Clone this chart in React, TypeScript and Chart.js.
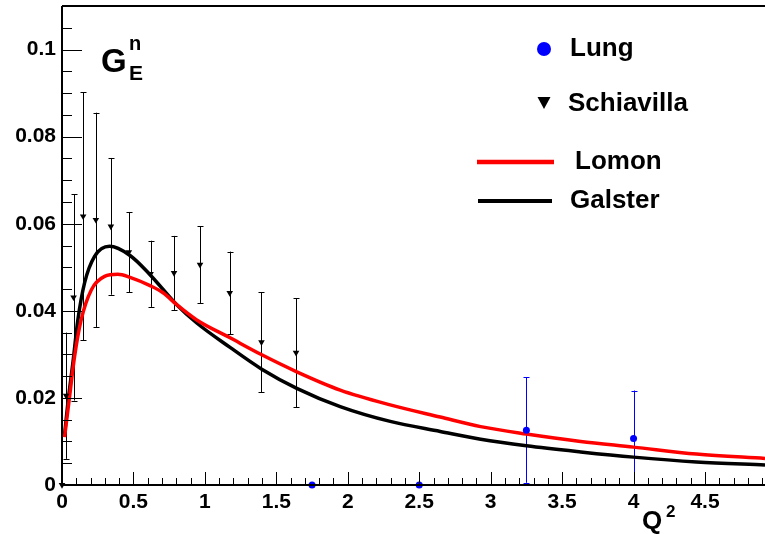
import React, { useEffect, useRef } from "react";
import { Chart, registerables } from "chart.js";
Chart.register(...registerables);

// ---- data ----
const lungQ2 = [1.75, 2.5, 3.25, 4.0];
const lungG = [0, 0, 0.0126, 0.0107];
const lungErr = [0, 0, 0.0121, 0.011];

const schQ2 = [0, 0.029, 0.081, 0.148, 0.237, 0.342, 0.468, 0.62, 0.784, 0.966, 1.174, 1.396, 1.638];
const schG = [0, 0.0205, 0.0431, 0.0617, 0.0609, 0.0594, 0.0535, 0.0485, 0.0487, 0.0506, 0.0441, 0.0328, 0.0304];
const schErr = [0, 0.0145, 0.0237, 0.0285, 0.0246, 0.0157, 0.0092, 0.0076, 0.0085, 0.0088, 0.0095, 0.0115, 0.0125];

const lomonQ2 = [0.018, 0.053, 0.088, 0.134, 0.205, 0.298, 0.391, 0.476, 0.616, 0.71, 0.803, 0.943, 1.176, 1.398, 1.643, 1.947, 2.297, 2.647, 2.93, 3.25, 3.63, 4.0, 4.44, 4.92];
const lomonG = [0.011, 0.0203, 0.0295, 0.0379, 0.0448, 0.0479, 0.0484, 0.0477, 0.0458, 0.0441, 0.0414, 0.0379, 0.0338, 0.0299, 0.026, 0.0218, 0.0184, 0.0156, 0.0134, 0.0117, 0.01, 0.0087, 0.0071, 0.0061];

const galsterQ2 = [0.018, 0.041, 0.076, 0.111, 0.158, 0.228, 0.333, 0.476, 0.616, 0.803, 0.943, 1.176, 1.398, 1.643, 1.947, 2.297, 2.647, 2.93, 3.25, 3.63, 4.0, 4.44, 4.92];
const galsterG = [0.0115, 0.0188, 0.028, 0.0379, 0.0464, 0.0525, 0.0548, 0.0527, 0.0483, 0.0414, 0.0372, 0.0316, 0.0266, 0.0222, 0.018, 0.0146, 0.0123, 0.0105, 0.009, 0.0076, 0.0064, 0.0053, 0.0046];

const xTicks = [0, 0.5, 1, 1.5, 2, 2.5, 3, 3.5, 4, 4.5];
const yTicks = [0, 0.02, 0.04, 0.06, 0.08, 0.1];
const X_MIN = 0;
const X_MAX = 4.92;
const Y_MIN = 0;
const Y_MAX = 0.11;

const legendNames = ["Lung", "Schiavilla", "Lomon", "Galster"];

const FONT = "'Liberation Sans', Arial, Helvetica, sans-serif";

const errorBarPlugin = {
  id: "errorBars",
  beforeDatasetsDraw(chart: any) {
    const ctx = chart.ctx;
    const xs = chart.scales.x;
    const ys = chart.scales.y;
    const sets = [
      { xv: lungQ2, yv: lungG, ev: lungErr, color: "#0000ff" },
      { xv: schQ2, yv: schG, ev: schErr, color: "#000000" },
    ];
    ctx.save();
    ctx.lineWidth = 1;
    for (const s of sets) {
      ctx.strokeStyle = s.color;
      s.xv.forEach((xv: number, i: number) => {
        const e = s.ev[i];
        if (!e) return;
        const px = Math.round(xs.getPixelForValue(xv)) + 0.5;
        const lo = Math.max(Y_MIN, s.yv[i] - e);
        const p1 = ys.getPixelForValue(s.yv[i] + e);
        const p2 = ys.getPixelForValue(lo);
        ctx.beginPath();
        ctx.moveTo(px, p1);
        ctx.lineTo(px, p2);
        ctx.moveTo(px - 3, Math.round(p1) + 0.5);
        ctx.lineTo(px + 3, Math.round(p1) + 0.5);
        if (s.yv[i] - e > Y_MIN) {
          ctx.moveTo(px - 3, Math.round(p2) + 0.5);
          ctx.lineTo(px + 3, Math.round(p2) + 0.5);
        }
        ctx.stroke();
      });
    }
    ctx.restore();
  },
};

const framePlugin = {
  id: "frame",
  afterDraw(chart: any) {
    const ctx = chart.ctx;
    const { left, right, top, bottom } = chart.chartArea;
    const xs = chart.scales.x;
    const ys = chart.scales.y;
    ctx.save();
    ctx.strokeStyle = "#000";
    // ticks
    ctx.lineWidth = 1;
    ctx.beginPath();
    for (let k = 0; k * 0.005 <= Y_MAX + 1e-9; k++) {
      const v = k * 0.005;
      const py = Math.round(ys.getPixelForValue(v)) + 0.5;
      const len = k % 4 === 0 ? 20 : 10;
      ctx.moveTo(left, py);
      ctx.lineTo(left + len, py);
    }
    for (let k = 0; k * 0.1 <= X_MAX + 1e-9; k++) {
      const v = k * 0.1;
      const px = Math.round(xs.getPixelForValue(v)) + 0.5;
      const len = k % 5 === 0 ? 13 : 7;
      ctx.moveTo(px, bottom);
      ctx.lineTo(px, bottom - len);
    }
    ctx.stroke();
    // axes & frame
    ctx.lineWidth = 2;
    ctx.beginPath();
    ctx.moveTo(left, top);
    ctx.lineTo(right, top);
    ctx.moveTo(left, top);
    ctx.lineTo(left, bottom);
    ctx.lineTo(right, bottom);
    ctx.stroke();

    // texts
    ctx.fillStyle = "#000";
    ctx.textAlign = "left";
    ctx.textBaseline = "alphabetic";
    ctx.font = `bold 33px ${FONT}`;
    ctx.fillText("G", 101, 72);
    ctx.font = `bold 20px ${FONT}`;
    ctx.fillText("n", 129, 50);
    ctx.font = `bold 21px ${FONT}`;
    ctx.fillText("E", 129, 80);

    ctx.font = `bold 26px ${FONT}`;
    ctx.fillText("Q", 642, 529);
    ctx.font = `bold 17px ${FONT}`;
    ctx.fillText("2", 666, 517);

    // legend
    ctx.font = `bold 26px ${FONT}`;
    ctx.fillStyle = "#0000ff";
    ctx.beginPath();
    ctx.arc(544, 49, 7, 0, Math.PI * 2);
    ctx.fill();
    ctx.fillStyle = "#000";
    ctx.fillText(legendNames[0], 570, 56);

    ctx.beginPath();
    ctx.moveTo(537.5, 97);
    ctx.lineTo(550.5, 97);
    ctx.lineTo(544, 109);
    ctx.closePath();
    ctx.fill();
    ctx.fillText(legendNames[1], 568, 111);

    ctx.lineWidth = 4.5;
    ctx.strokeStyle = "#ff0000";
    ctx.beginPath();
    ctx.moveTo(477, 162);
    ctx.lineTo(554, 162);
    ctx.stroke();
    ctx.fillText(legendNames[2], 575, 169);

    ctx.lineWidth = 4;
    ctx.strokeStyle = "#000";
    ctx.beginPath();
    ctx.moveTo(478, 201);
    ctx.lineTo(552, 201);
    ctx.stroke();
    ctx.fillText(legendNames[3], 570, 208);
    ctx.restore();
  },
};

export default function App() {
  const ref = useRef<HTMLCanvasElement>(null);
  useEffect(() => {
    document.body.style.margin = "0";
    const chart = new Chart(ref.current as HTMLCanvasElement, {
      type: "scatter",
      data: {
        datasets: [
          {
            label: legendNames[0],
            data: lungQ2.map((x, i) => ({ x, y: lungG[i] })),
            pointStyle: "circle",
            pointRadius: 3.5,
            backgroundColor: "#0000ff",
            borderColor: "#0000ff",
            borderWidth: 0,
            showLine: false,
            clip: false,
          },
          {
            label: legendNames[1],
            data: schQ2.map((x, i) => ({ x, y: schG[i] })),
            pointStyle: "triangle",
            rotation: 180,
            pointRadius: 3.8,
            backgroundColor: "#000",
            borderColor: "#000",
            borderWidth: 0,
            showLine: false,
            clip: false,
          },
          {
            label: legendNames[2],
            data: lomonQ2.map((x, i) => ({ x, y: lomonG[i] })),
            showLine: true,
            borderColor: "#ff0000",
            borderWidth: 3.5,
            pointRadius: 0,
            cubicInterpolationMode: "monotone",
            fill: false,
          },
          {
            label: legendNames[3],
            data: galsterQ2.map((x, i) => ({ x, y: galsterG[i] })),
            showLine: true,
            borderColor: "#000000",
            borderWidth: 3.5,
            pointRadius: 0,
            cubicInterpolationMode: "monotone",
            fill: false,
          },
        ],
      } as any,
      options: {
        animation: false,
        responsive: false,
        devicePixelRatio: 1,
        layout: { autoPadding: false, padding: { top: 6, right: 0, left: 0, bottom: 0 } },
        plugins: { legend: { display: false }, tooltip: { enabled: false } },
        scales: {
          x: {
            type: "linear",
            min: X_MIN,
            max: X_MAX,
            grid: { display: false, drawTicks: false },
            border: { display: false },
            afterBuildTicks: (s: any) => {
              s.ticks = xTicks.map((v) => ({ value: v }));
            },
            afterFit: (s: any) => {
              s.height = 49;
              s.paddingLeft = 0;
              s.paddingRight = 0;
            },
            ticks: {
              autoSkip: false,
              maxRotation: 0,
              padding: 5,
              color: "#000",
              font: { family: FONT, size: 21, weight: "bold" },
              callback: (v: any) => String(Number(Number(v).toFixed(2))),
            },
          },
          y: {
            type: "linear",
            min: Y_MIN,
            max: Y_MAX,
            grid: { display: false, drawTicks: false },
            border: { display: false },
            afterBuildTicks: (s: any) => {
              s.ticks = yTicks.map((v) => ({ value: v }));
            },
            afterFit: (s: any) => {
              s.width = 62;
              s.paddingTop = 0;
              s.paddingBottom = 0;
            },
            ticks: {
              autoSkip: false,
              padding: 6,
              color: "#000",
              font: { family: FONT, size: 21, weight: "bold" },
              callback: (v: any) => String(Number(Number(v).toFixed(3))),
            },
          },
        },
      } as any,
      plugins: [errorBarPlugin, framePlugin],
    });
    return () => chart.destroy();
  }, []);
  return (
    <div style={{ width: 765, height: 534 }}>
      <canvas ref={ref} width={765} height={534} style={{ display: "block" }} />
    </div>
  );
}
